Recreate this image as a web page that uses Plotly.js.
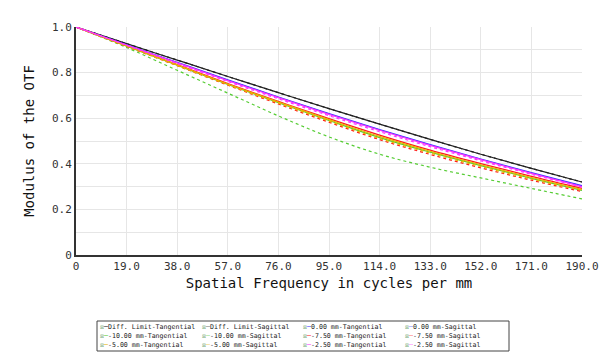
<!DOCTYPE html>
<html><head><meta charset="utf-8">
<script src="https://cdn.plot.ly/plotly-3.0.1.min.js"></script>
<style>html,body{margin:0;padding:0;background:#fff}#c{width:603px;height:361px}</style>
</head><body><div id="c"></div>
<script>
const freq = [0, 19, 38, 57, 76, 95, 114, 133, 152, 171, 190];
const diffT = [1, 0.927, 0.855, 0.783, 0.712, 0.642, 0.574, 0.507, 0.442, 0.380, 0.320];
const diffS = [1, 0.927, 0.855, 0.783, 0.712, 0.642, 0.574, 0.507, 0.442, 0.380, 0.320];
const f000T = [1, 0.922, 0.845, 0.768, 0.693, 0.620, 0.550, 0.484, 0.421, 0.361, 0.304];
const f000S = [1, 0.921, 0.843, 0.766, 0.691, 0.618, 0.548, 0.482, 0.419, 0.359, 0.302];
const fm100T = [1, 0.916, 0.832, 0.748, 0.668, 0.590, 0.515, 0.451, 0.392, 0.336, 0.283];
const fm100S = [1, 0.910, 0.810, 0.710, 0.610, 0.518, 0.442, 0.385, 0.338, 0.292, 0.246];
const fm075T = [1, 0.918, 0.835, 0.752, 0.674, 0.598, 0.526, 0.460, 0.401, 0.345, 0.292];
const fm075S = [1, 0.915, 0.830, 0.745, 0.662, 0.582, 0.506, 0.441, 0.382, 0.328, 0.278];
const fm050T = [1, 0.917, 0.834, 0.750, 0.671, 0.594, 0.520, 0.455, 0.396, 0.340, 0.288];
const fm050S = [1, 0.916, 0.831, 0.747, 0.666, 0.587, 0.511, 0.447, 0.388, 0.333, 0.284];
const fm025T = [1, 0.921, 0.843, 0.765, 0.690, 0.617, 0.547, 0.481, 0.418, 0.358, 0.300];
const fm025S = [1, 0.920, 0.840, 0.761, 0.685, 0.611, 0.541, 0.475, 0.413, 0.354, 0.297];

const seriesNames = ["Diff. Limit-Tangential", "Diff. Limit-Sagittal", "0.00 mm-Tangential", "0.00 mm-Sagittal",
  "-10.00 mm-Tangential", "-10.00 mm-Sagittal", "-7.50 mm-Tangential", "-7.50 mm-Sagittal",
  "-5.00 mm-Tangential", "-5.00 mm-Sagittal", "-2.50 mm-Tangential", "-2.50 mm-Sagittal"];
const seriesData = [diffT, diffS, f000T, f000S, fm100T, fm100S, fm075T, fm075S, fm050T, fm050S, fm025T, fm025S];
const seriesColors = ["#222222", "#222222", "#3a3aff", "#3a3aff", "#55cc33", "#55cc33", "#ff1a1a", "#ff1a1a",
  "#e8b400", "#e8b400", "#ff33ff", "#ff33ff"];
const xTickVals = [0, 19, 38, 57, 76, 95, 114, 133, 152, 171, 190];
const xTickText = ["0", "19.0", "38.0", "57.0", "76.0", "95.0", "114.0", "133.0", "152.0", "171.0", "190.0"];
const yTickVals = [0, 0.1, 0.2, 0.3, 0.4, 0.5, 0.6, 0.7, 0.8, 0.9, 1.0];
const yTickText = ["0", "", "0.2", "", "0.4", "", "0.6", "", "0.8", "", "1.0"];

const traces = seriesData.map((d, i) => ({
  x: freq, y: d, type: 'scatter', mode: 'lines', name: seriesNames[i], showlegend: false,
  line: {color: seriesColors[i], width: 1.2, dash: (i % 2 === 1) ? 'dot' : 'solid', shape: 'spline'}
}));

const W = 506, H = 228, L = 76, B = 255;
const px = p => (p - L) / W;
const py = p => (B - p) / H;
const colX = [98, 200, 301, 403];
const rowY = [327, 336, 345];
const annotations = seriesNames.map((n, i) => {
  const r = Math.floor(i / 4), c = i % 4;
  const mark = (i % 2 === 1) ? '\u2504' : '\u2500';
  return {
    xref: 'paper', yref: 'paper', x: px(colX[c]), y: py(rowY[r]), xanchor: 'left', yanchor: 'middle',
    showarrow: false, align: 'left',
    font: {family: 'DejaVu Sans Mono', size: 6.6, color: '#222'},
    text: '<span style="color:#2e7d32">\u2612</span><span style="color:' + seriesColors[i] + '">' + mark + '</span>' + n
  };
});

const layout = {
  width: 603, height: 361,
  margin: {l: 76, r: 21, t: 27, b: 106},
  paper_bgcolor: '#fff', plot_bgcolor: '#fff',
  font: {family: 'DejaVu Sans Mono', color: '#333'},
  xaxis: {
    range: [0, 190], tickvals: xTickVals, ticktext: xTickText, showgrid: true, gridcolor: '#e6e6e6',
    zeroline: false, showline: true, linecolor: '#333', linewidth: 2, ticks: '',
    tickfont: {family: 'DejaVu Sans Mono', size: 11, color: '#333'},
    title: {text: 'Spatial Frequency in cycles per mm', font: {family: 'DejaVu Sans Mono', size: 14, color: '#111'}, standoff: 6}
  },
  yaxis: {
    range: [0, 1], tickvals: yTickVals, ticktext: yTickText, showgrid: true, gridcolor: '#e6e6e6',
    zeroline: false, showline: true, linecolor: '#333', linewidth: 2, ticks: '',
    tickfont: {family: 'DejaVu Sans Mono', size: 11, color: '#333'},
    title: {text: 'Modulus of the OTF', font: {family: 'DejaVu Sans Mono', size: 14, color: '#111'}, standoff: 14}
  },
  annotations: annotations,
  shapes: [{type: 'rect', xref: 'paper', yref: 'paper', x0: px(97), x1: px(509), y0: py(351), y1: py(321),
    line: {color: '#444', width: 1}, fillcolor: 'rgba(0,0,0,0)'}]
};
Plotly.newPlot('c', traces, layout, {staticPlot: true});
</script></body></html>
